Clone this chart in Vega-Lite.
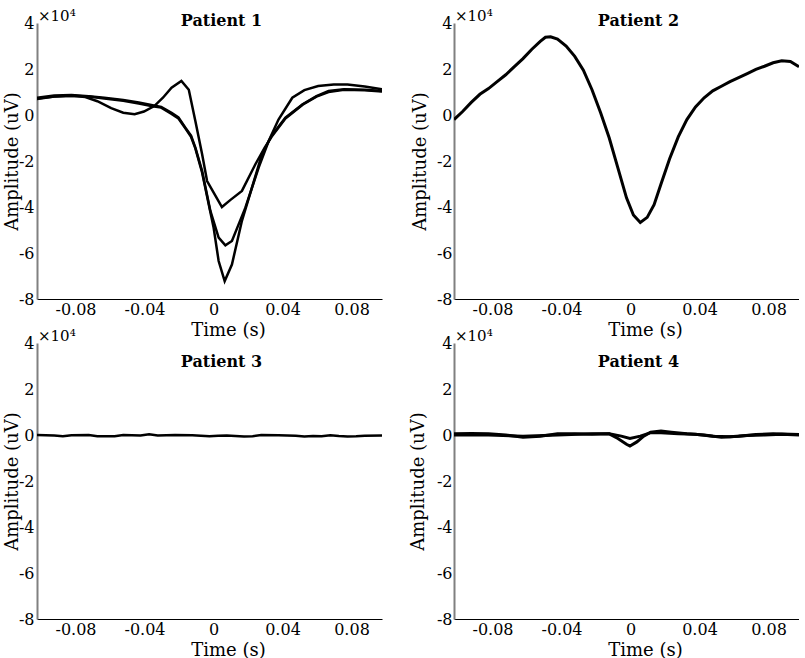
{
  "$schema": "https://vega.github.io/schema/vega-lite/v6.json",
  "background": "white",
  "padding": {"left": 3, "top": 9, "right": 0, "bottom": 0},
  "columns": 2,
  "spacing": {"row": 44, "column": 72},
  "bounds": "flush",
  "config": {
    "view": {"stroke": null},
    "font": "DejaVu Serif",
    "axis": {"labelFont": "DejaVu Serif", "titleFont": "DejaVu Serif", "labelFontSize": 16, "titleFontSize": 18, "titleFontWeight": "normal", "labelColor": "black", "titleColor": "black", "grid": false, "ticks": false, "tickSize": 0},
    "axisX": {"domainColor": "black", "domainWidth": 1, "labelPadding": 2, "labelOffset": 4},
    "axisY": {"domainColor": "#808080", "domainWidth": 2, "labelPadding": 3},
    "title": {"font": "DejaVu Serif", "fontSize": 16, "fontWeight": "bold", "color": "black", "frame": "group", "anchor": "middle", "baseline": "alphabetic", "dx": 12}
  },
  "datasets": {
    "p1": [
      {"s":"a","t":-0.1,"v":0.72},{"s":"a","t":-0.09,"v":0.8},{"s":"a","t":-0.08,"v":0.84},{"s":"a","t":-0.072,"v":0.78},{"s":"a","t":-0.065,"v":0.6},{"s":"a","t":-0.057,"v":0.3},{"s":"a","t":-0.05,"v":0.1},{"s":"a","t":-0.0434,"v":0.03},{"s":"a","t":-0.038,"v":0.15},{"s":"a","t":-0.032,"v":0.39},{"s":"a","t":-0.027,"v":0.75},{"s":"a","t":-0.022,"v":1.19},{"s":"a","t":-0.0163,"v":1.48},{"s":"a","t":-0.012,"v":1.1},{"s":"a","t":-0.0082,"v":-0.26},{"s":"a","t":-0.0043,"v":-1.7},{"s":"a","t":-0.0014,"v":-2.87},{"s":"a","t":0.003,"v":-3.45},{"s":"a","t":0.0072,"v":-4.0},{"s":"a","t":0.012,"v":-3.7},{"s":"a","t":0.0188,"v":-3.3},{"s":"a","t":0.0266,"v":-2.14},{"s":"a","t":0.032,"v":-1.42},{"s":"a","t":0.036,"v":-0.95},{"s":"a","t":0.044,"v":-0.15},{"s":"a","t":0.054,"v":0.45},{"s":"a","t":0.062,"v":0.8},{"s":"a","t":0.069,"v":1.0},{"s":"a","t":0.078,"v":1.1},{"s":"a","t":0.09,"v":1.08},{"s":"a","t":0.1,"v":1.02},
      {"s":"b","t":-0.1,"v":0.75},{"s":"b","t":-0.09,"v":0.85},{"s":"b","t":-0.08,"v":0.87},{"s":"b","t":-0.07,"v":0.82},{"s":"b","t":-0.061,"v":0.75},{"s":"b","t":-0.05,"v":0.65},{"s":"b","t":-0.041,"v":0.54},{"s":"b","t":-0.033,"v":0.42},{"s":"b","t":-0.028,"v":0.35},{"s":"b","t":-0.022,"v":0.1},{"s":"b","t":-0.018,"v":-0.1},{"s":"b","t":-0.014,"v":-0.55},{"s":"b","t":-0.0107,"v":-0.9},{"s":"b","t":-0.0082,"v":-1.42},{"s":"b","t":-0.0043,"v":-2.43},{"s":"b","t":0.0005,"v":-4.17},{"s":"b","t":0.0053,"v":-5.33},{"s":"b","t":0.0092,"v":-5.67},{"s":"b","t":0.013,"v":-5.48},{"s":"b","t":0.0208,"v":-4.03},{"s":"b","t":0.0285,"v":-2.29},{"s":"b","t":0.0343,"v":-1.13},{"s":"b","t":0.04,"v":-0.2},{"s":"b","t":0.048,"v":0.75},{"s":"b","t":0.055,"v":1.08},{"s":"b","t":0.063,"v":1.26},{"s":"b","t":0.072,"v":1.33},{"s":"b","t":0.08,"v":1.33},{"s":"b","t":0.09,"v":1.24},{"s":"b","t":0.1,"v":1.12},
      {"s":"c","t":-0.1,"v":0.7},{"s":"c","t":-0.09,"v":0.8},{"s":"c","t":-0.08,"v":0.84},{"s":"c","t":-0.07,"v":0.8},{"s":"c","t":-0.061,"v":0.72},{"s":"c","t":-0.05,"v":0.62},{"s":"c","t":-0.041,"v":0.5},{"s":"c","t":-0.033,"v":0.38},{"s":"c","t":-0.028,"v":0.32},{"s":"c","t":-0.022,"v":0.05},{"s":"c","t":-0.018,"v":-0.15},{"s":"c","t":-0.014,"v":-0.58},{"s":"c","t":-0.0107,"v":-0.95},{"s":"c","t":-0.0082,"v":-1.45},{"s":"c","t":-0.0043,"v":-2.5},{"s":"c","t":0.0024,"v":-4.9},{"s":"c","t":0.0053,"v":-6.35},{"s":"c","t":0.0088,"v":-7.22},{"s":"c","t":0.013,"v":-6.5},{"s":"c","t":0.0188,"v":-4.6},{"s":"c","t":0.0246,"v":-3.16},{"s":"c","t":0.0304,"v":-1.71},{"s":"c","t":0.036,"v":-0.9},{"s":"c","t":0.044,"v":-0.12},{"s":"c","t":0.054,"v":0.47},{"s":"c","t":0.062,"v":0.82},{"s":"c","t":0.069,"v":1.04},{"s":"c","t":0.078,"v":1.12},{"s":"c","t":0.09,"v":1.1},{"s":"c","t":0.1,"v":1.04}
    ],
    "p2": [
      {"s":"a","t":-0.1,"v":-0.2},{"s":"a","t":-0.095,"v":0.15},{"s":"a","t":-0.09,"v":0.55},{"s":"a","t":-0.085,"v":0.9},{"s":"a","t":-0.08,"v":1.15},{"s":"a","t":-0.075,"v":1.45},{"s":"a","t":-0.07,"v":1.75},{"s":"a","t":-0.065,"v":2.1},{"s":"a","t":-0.06,"v":2.45},{"s":"a","t":-0.055,"v":2.85},{"s":"a","t":-0.05,"v":3.2},{"s":"a","t":-0.047,"v":3.38},{"s":"a","t":-0.044,"v":3.4},{"s":"a","t":-0.04,"v":3.3},{"s":"a","t":-0.035,"v":3.0},{"s":"a","t":-0.03,"v":2.55},{"s":"a","t":-0.025,"v":1.95},{"s":"a","t":-0.02,"v":1.1},{"s":"a","t":-0.015,"v":0.1},{"s":"a","t":-0.01,"v":-1.0},{"s":"a","t":-0.005,"v":-2.3},{"s":"a","t":0.0,"v":-3.6},{"s":"a","t":0.004,"v":-4.35},{"s":"a","t":0.008,"v":-4.67},{"s":"a","t":0.012,"v":-4.45},{"s":"a","t":0.016,"v":-3.9},{"s":"a","t":0.02,"v":-3.0},{"s":"a","t":0.025,"v":-1.9},{"s":"a","t":0.03,"v":-0.95},{"s":"a","t":0.035,"v":-0.2},{"s":"a","t":0.04,"v":0.35},{"s":"a","t":0.045,"v":0.75},{"s":"a","t":0.05,"v":1.05},{"s":"a","t":0.055,"v":1.25},{"s":"a","t":0.06,"v":1.45},{"s":"a","t":0.065,"v":1.62},{"s":"a","t":0.07,"v":1.8},{"s":"a","t":0.075,"v":1.98},{"s":"a","t":0.08,"v":2.12},{"s":"a","t":0.085,"v":2.27},{"s":"a","t":0.09,"v":2.36},{"s":"a","t":0.095,"v":2.33},{"s":"a","t":0.1,"v":2.1}
    ],
    "p3": [
      {"s":"a","t":-0.1,"v":0},{"s":"a","t":-0.09,"v":-0.02},{"s":"a","t":-0.085,"v":-0.05},{"s":"a","t":-0.08,"v":-0.01},{"s":"a","t":-0.07,"v":0},{"s":"a","t":-0.065,"v":-0.05},{"s":"a","t":-0.055,"v":-0.05},{"s":"a","t":-0.05,"v":0},{"s":"a","t":-0.04,"v":-0.02},{"s":"a","t":-0.035,"v":0.03},{"s":"a","t":-0.03,"v":-0.02},{"s":"a","t":-0.02,"v":0},{"s":"a","t":-0.01,"v":-0.01},{"s":"a","t":0,"v":-0.05},{"s":"a","t":0.005,"v":-0.03},{"s":"a","t":0.01,"v":-0.02},{"s":"a","t":0.02,"v":-0.06},{"s":"a","t":0.025,"v":-0.05},{"s":"a","t":0.03,"v":0},{"s":"a","t":0.04,"v":-0.01},{"s":"a","t":0.05,"v":-0.03},{"s":"a","t":0.055,"v":-0.06},{"s":"a","t":0.06,"v":-0.04},{"s":"a","t":0.065,"v":-0.05},{"s":"a","t":0.07,"v":-0.01},{"s":"a","t":0.075,"v":-0.04},{"s":"a","t":0.08,"v":-0.06},{"s":"a","t":0.085,"v":-0.05},{"s":"a","t":0.09,"v":-0.03},{"s":"a","t":0.1,"v":-0.02}
    ],
    "p4": [
      {"s":"a","t":-0.1,"v":0.05},{"s":"a","t":-0.09,"v":0.07},{"s":"a","t":-0.08,"v":0.05},{"s":"a","t":-0.07,"v":0.0},{"s":"a","t":-0.06,"v":-0.1},{"s":"a","t":-0.05,"v":-0.05},{"s":"a","t":-0.04,"v":0.05},{"s":"a","t":-0.03,"v":0.05},{"s":"a","t":-0.02,"v":0.03},{"s":"a","t":-0.01,"v":0.05},{"s":"a","t":-0.005,"v":-0.15},{"s":"a","t":0.0,"v":-0.4},{"s":"a","t":0.002,"v":-0.48},{"s":"a","t":0.006,"v":-0.3},{"s":"a","t":0.01,"v":-0.05},{"s":"a","t":0.014,"v":0.12},{"s":"a","t":0.02,"v":0.17},{"s":"a","t":0.026,"v":0.12},{"s":"a","t":0.035,"v":0.05},{"s":"a","t":0.045,"v":0.0},{"s":"a","t":0.055,"v":-0.1},{"s":"a","t":0.065,"v":-0.05},{"s":"a","t":0.075,"v":0.02},{"s":"a","t":0.085,"v":0.05},{"s":"a","t":0.1,"v":0.02},
      {"s":"b","t":-0.1,"v":0.0},{"s":"b","t":-0.08,"v":0.0},{"s":"b","t":-0.06,"v":-0.05},{"s":"b","t":-0.04,"v":0.0},{"s":"b","t":-0.02,"v":0.05},{"s":"b","t":-0.01,"v":0.05},{"s":"b","t":-0.003,"v":-0.05},{"s":"b","t":0.002,"v":-0.15},{"s":"b","t":0.008,"v":-0.05},{"s":"b","t":0.014,"v":0.1},{"s":"b","t":0.02,"v":0.1},{"s":"b","t":0.03,"v":0.05},{"s":"b","t":0.04,"v":0.03},{"s":"b","t":0.05,"v":-0.05},{"s":"b","t":0.06,"v":-0.08},{"s":"b","t":0.07,"v":-0.02},{"s":"b","t":0.08,"v":0.0},{"s":"b","t":0.09,"v":0.03},{"s":"b","t":0.1,"v":0.0}
    ]
  },
  "concat": [
    {
      "width": 345, "height": 276,
      "title": {"text": "Patient 1", "offset": -20},
      "layer": [
        {"data": {"name": "p1"}, "mark": {"type": "line", "color": "black", "strokeWidth": 2.5, "clip": true},
         "encoding": {
           "x": {"field": "t", "type": "quantitative", "scale": {"domain": [-0.1, 0.1], "nice": false, "zero": false}, "axis": {"title": "Time (s)", "values": [-0.08, -0.04, 0, 0.04, 0.08], "labelExpr": "'' + datum.value", "titleX": 191, "titleY": 36, "titleBaseline": "alphabetic"}},
           "y": {"field": "v", "type": "quantitative", "scale": {"domain": [-8, 4], "nice": false, "zero": false}, "axis": {"title": "Amplitude (uV)", "values": [-8, -6, -4, -2, 0, 2, 4], "labelExpr": "'' + datum.value", "titlePadding": -3}},
           "detail": {"field": "s"}}},
        {"data": {"values": [{"m": "×10⁴"}]}, "mark": {"type": "text", "align": "left", "baseline": "alphabetic", "dx": 1, "dy": -2, "fontSize": 15, "font": "DejaVu Serif", "color": "black"},
         "encoding": {"x": {"datum": -0.1}, "y": {"datum": 4}, "text": {"field": "m"}}}
      ]
    },
    {
      "width": 345, "height": 276,
      "title": {"text": "Patient 2", "offset": -20},
      "layer": [
        {"data": {"name": "p2"}, "mark": {"type": "line", "color": "black", "strokeWidth": 3, "clip": true},
         "encoding": {
           "x": {"field": "t", "type": "quantitative", "scale": {"domain": [-0.1, 0.1], "nice": false, "zero": false}, "axis": {"title": "Time (s)", "values": [-0.08, -0.04, 0, 0.04, 0.08], "labelExpr": "'' + datum.value", "titleX": 191, "titleY": 36, "titleBaseline": "alphabetic"}},
           "y": {"field": "v", "type": "quantitative", "scale": {"domain": [-8, 4], "nice": false, "zero": false}, "axis": {"title": "Amplitude (uV)", "values": [-8, -6, -4, -2, 0, 2, 4], "labelExpr": "'' + datum.value", "labelPadding": 2, "titlePadding": 7}},
           "detail": {"field": "s"}}},
        {"data": {"values": [{"m": "×10⁴"}]}, "mark": {"type": "text", "align": "left", "baseline": "alphabetic", "dx": 1, "dy": -2, "fontSize": 15, "font": "DejaVu Serif", "color": "black"},
         "encoding": {"x": {"datum": -0.1}, "y": {"datum": 4}, "text": {"field": "m"}}}
      ]
    },
    {
      "width": 345, "height": 276,
      "title": {"text": "Patient 3", "offset": -41},
      "layer": [
        {"data": {"name": "p3"}, "mark": {"type": "line", "color": "black", "strokeWidth": 2.5, "clip": true},
         "encoding": {
           "x": {"field": "t", "type": "quantitative", "scale": {"domain": [-0.1, 0.1], "nice": false, "zero": false}, "axis": {"title": "Time (s)", "values": [-0.08, -0.04, 0, 0.04, 0.08], "labelExpr": "'' + datum.value", "titleX": 191, "titleY": 36, "titleBaseline": "alphabetic"}},
           "y": {"field": "v", "type": "quantitative", "scale": {"domain": [-8, 4], "nice": false, "zero": false}, "axis": {"title": "Amplitude (uV)", "values": [-8, -6, -4, -2, 0, 2, 4], "labelExpr": "'' + datum.value", "titlePadding": -3}},
           "detail": {"field": "s"}}},
        {"data": {"values": [{"m": "×10⁴"}]}, "mark": {"type": "text", "align": "left", "baseline": "alphabetic", "dx": 1, "dy": -2, "fontSize": 15, "font": "DejaVu Serif", "color": "black"},
         "encoding": {"x": {"datum": -0.1}, "y": {"datum": 4}, "text": {"field": "m"}}}
      ]
    },
    {
      "width": 345, "height": 276,
      "title": {"text": "Patient 4", "offset": -41},
      "layer": [
        {"data": {"name": "p4"}, "mark": {"type": "line", "color": "black", "strokeWidth": 3, "clip": true},
         "encoding": {
           "x": {"field": "t", "type": "quantitative", "scale": {"domain": [-0.1, 0.1], "nice": false, "zero": false}, "axis": {"title": "Time (s)", "values": [-0.08, -0.04, 0, 0.04, 0.08], "labelExpr": "'' + datum.value", "titleX": 191, "titleY": 36, "titleBaseline": "alphabetic"}},
           "y": {"field": "v", "type": "quantitative", "scale": {"domain": [-8, 4], "nice": false, "zero": false}, "axis": {"title": "Amplitude (uV)", "values": [-8, -6, -4, -2, 0, 2, 4], "labelExpr": "'' + datum.value", "labelPadding": 2, "titlePadding": 9}},
           "detail": {"field": "s"}}},
        {"data": {"values": [{"m": "×10⁴"}]}, "mark": {"type": "text", "align": "left", "baseline": "alphabetic", "dx": 1, "dy": -2, "fontSize": 15, "font": "DejaVu Serif", "color": "black"},
         "encoding": {"x": {"datum": -0.1}, "y": {"datum": 4}, "text": {"field": "m"}}}
      ]
    }
  ]
}
